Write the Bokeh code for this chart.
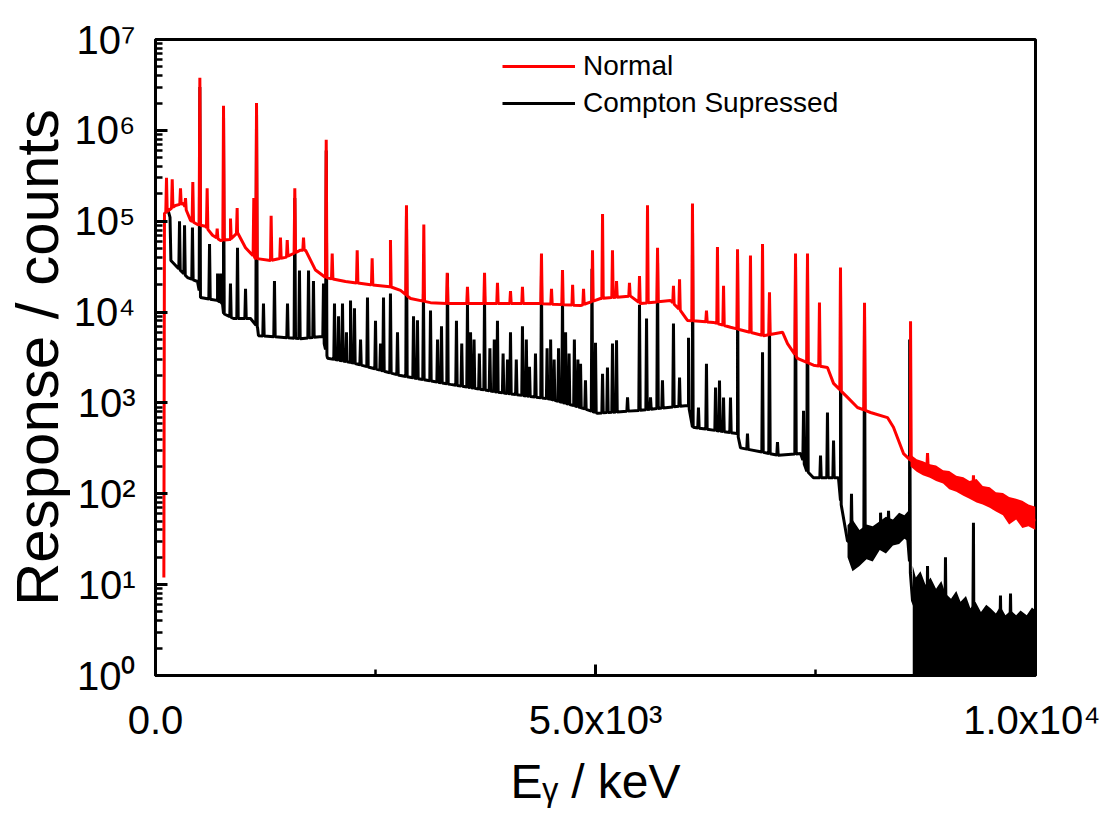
import numpy as np
from bokeh.plotting import figure
from bokeh.models import (FixedTicker, CustomJSTickFormatter, Legend, LegendItem, Range1d)
from bokeh.embed import file_html
from bokeh.resources import INLINE

FONT = "Liberation Sans"

# ---------------- data ----------------
# Normal spectrum: continuum breakpoints (keV, counts)
red_cont_E = [95, 102, 227, 318, 398, 477, 568, 648, 739, 852, 932, 1023, 1136, 1307, 1477,
              1648, 1705, 1818, 1932, 2159, 2443, 2670, 2784, 2898, 3125, 3352, 3920, 4375,
              4830, 5057, 5398, 5511, 5852, 5966, 6045, 6341, 6534, 6909, 7125, 7182, 7295,
              7477, 7636, 7705, 7864, 7977, 8125, 8318, 8386, 8500, 8580, 8807, 9182, 9568,
              9977, 10000]
red_cont_y = [12, 1.22e5, 1.49e5, 1.57e5, 1.02e5, 9.2e4, 8.8e4, 7.0e4, 6.15e4, 6.3e4, 7.5e4,
              5.1e4, 3.9e4, 3.7e4, 4.0e4, 4.8e4, 4.8e4, 2.9e4, 2.4e4, 2.17e4, 2.0e4, 1.9e4,
              1.73e4, 1.41e4, 1.27e4, 1.24e4, 1.24e4, 1.24e4, 1.18e4, 1.41e4, 1.5e4, 1.24e4,
              1.34e4, 1.04e4, 8.1e3, 7.7e3, 6.8e3, 5.5e3, 6.0e3, 4.5e3, 3.1e3, 2.6e3, 2.45e3,
              1.64e3, 1.15e3, 890, 785, 690, 540, 277, 234, 180, 117, 84, 53, 50]
# Normal spectrum: peaks (keV, counts at top)
red_peak_E = [125, 190, 284, 341, 424, 504, 587, 701, 773, 852, 928, 1117, 1148, 1314, 1420,
              1497, 1583, 1682, 1940, 2008, 2292, 2462, 2670, 2852, 3049, 3315, 3545, 3739,
              3886, 4034, 4170, 4386, 4500, 4625, 4740, 4864, 4966, 5080, 5193, 5239, 5386,
              5500, 5591, 5705, 5886, 5955, 6102, 6261, 6386, 6455, 6614, 6761, 6898, 6977,
              7273, 7409, 7545, 7784, 8057, 8580, 8773, 9295]
red_peak_y = [3.0e5, 2.9e5, 2.3e5, 1.8e5, 2.7e5, 3.8e6, 2.3e5, 8.3e4, 1.87e6, 1.07e5, 1.4e5,
              1.8e5, 2.0e6, 1.15e5, 6.6e4, 6.2e4, 2.3e5, 6.6e4, 7.9e5, 4.4e4, 4.8e4, 3.9e4,
              6.2e4, 1.5e5, 9.2e4, 2.7e4, 1.9e4, 2.7e4, 2.1e4, 1.7e4, 1.9e4, 4.4e4, 1.8e4,
              2.9e4, 2.0e4, 1.8e4, 4.8e4, 1.2e5, 4.8e4, 2.2e4, 2.1e4, 2.5e4, 1.5e5, 5.1e4,
              1.95e4, 2.3e4, 1.57e5, 1.04e4, 5.2e4, 1.95e4, 4.9e4, 4.2e4, 5.6e4, 1.65e4,
              4.4e4, 4.4e4, 1.27e4, 3.1e4, 1.27e4, 7.9e3, 280, 160]
# Normal spectrum: noise band of the high-energy tail (keV, low, high)
red_band_E = [8580, 8650, 8720, 8800, 8870, 8950, 9020, 9100, 9180, 9250, 9330, 9400, 9480,
              9550, 9630, 9700, 9780, 9850, 9920, 10000]
red_band_lo = [200, 175, 160, 150, 138, 130, 112, 105, 95, 88, 80, 76, 70, 64, 58, 46, 52,
               42, 44, 40]
red_band_hi = [270, 240, 228, 212, 205, 182, 178, 158, 152, 138, 145, 122, 118, 104, 102, 92,
               88, 84, 76, 72]

# Compton suppressed spectrum: continuum breakpoints
black_cont_E = [145, 165, 175, 250, 364, 477, 511, 705, 761, 773, 886, 1080, 1159, 1170, 1648,
                1898, 1955, 2216, 2784, 3352, 3920, 4489, 4830, 5023, 5511, 6057, 6102, 6614,
                6648, 7080, 7330, 7398, 7477, 7761, 7784, 7864, 8011, 8239, 8466, 8534, 8568,
                8602, 8693, 8900, 9300, 9700, 10000]
black_cont_y = [1.3e5, 1.1e5, 3.7e4, 3.1e4, 2.4e4, 2.17e4, 1.45e4, 1.34e4, 1.24e4, 9.6e3,
                8.5e3, 8.5e3, 6.8e3, 5.5e3, 5.1e3, 5.4e3, 3.1e3, 2.8e3, 2.0e3, 1.6e3, 1.3e3,
                1.1e3, 890, 770, 830, 940, 540, 460, 320, 265, 277, 180, 150, 150, 84, 30, 30,
                35, 40, 48, 18, 6.7, 4, 3, 2.5, 2.5, 2.5]
# Compton suppressed spectrum: peaks
black_peak_E = [273, 330, 420, 504, 614, 705, 740, 773, 852, 932, 1023, 1148, 1227, 1352, 1500,
                1583, 1636, 1739, 1795, 1909, 1940, 2034, 2080, 2125, 2170, 2216, 2261, 2330,
                2409, 2500, 2557, 2591, 2670, 2750, 2852, 2932, 2977, 3045, 3125, 3205, 3250,
                3318, 3420, 3480, 3545, 3580, 3620, 3680, 3739, 3800, 3850, 3886, 3950, 4000,
                4034, 4100, 4170, 4214, 4250, 4318, 4386, 4450, 4490, 4530, 4580, 4625, 4660,
                4700, 4760, 4800, 4830, 4886, 4960, 5000, 5080,
                5136, 5193, 5239, 5364, 5500, 5580, 5625, 5705, 5761, 5886, 5955, 6057, 6102,
                6170, 6261, 6364, 6409, 6455, 6534, 6614, 6727, 6898, 6977, 7068, 7273, 7364,
                7409, 7557, 7636, 7705, 7784, 7909, 8057, 8239, 8330, 8570, 8773, 8977, 9295,
                9602, 9716]
black_peak_y = [1.0e5, 9.0e4, 8.5e4, 3.0e6, 5.6e4, 2.65e4, 2.65e4, 1.5e6, 2.06e4, 5.1e4, 1.8e4,
                1.6e6, 1.24e4, 2.2e4, 1.24e4, 1.8e5, 2.86e4, 2.86e4, 2.2e4, 2.06e4, 6.0e5,
                1.24e4, 9e3, 1.24e4, 6e3, 1.34e4, 1.1e4, 5e3,
                1.45e4, 8e3, 4.5e3, 1.45e4, 1.6e4, 6e3, 1.2e5, 9e3, 8.1e3, 1.6e4, 1.04e4, 5e3,
                7e3,
                2.65e4, 8e3, 4.5e3, 1.2e4, 6e3, 5e3, 3.5e3, 1.5e4, 4e3, 5e3, 8e3, 3.5e3, 3e3,
                6e3, 3e3, 7e3, 5e3, 2.5e3, 3.5e3, 2.5e4, 4e3, 5e3, 3e3, 4e3, 1.5e4, 6e3,
                3.5e3, 5e3, 3e3, 2.7e3, 1.77e3, 3.0e4, 4.6e3, 2.1e3,
                2.45e3, 4.5e3, 4.9e3, 1.15e3, 1.2e4, 8.5e3, 1.15e3, 3.5e4, 1.77e3, 7.5e3, 1.9e3,
                5.2e3, 1.2e5,
                890, 2.7e3, 1.48e3, 1.77e3, 1.15e3, 1.15e3, 3.5e4, 460, 3.6e3, 9.6e3, 370,
                3.2e4, 820, 3.2e4, 264, 785, 386, 2.2e4, 100, 9e3, 62, 65, 5e3, 16, 20, 48,
                7.6, 8]
# Compton suppressed: noisy band between the two upper edges (keV, low, high)
black_band_E = [7864, 7920, 8000, 8080, 8150, 8230, 8300, 8380, 8450, 8510, 8555]
black_band_lo = [20, 14, 16, 19, 18, 24, 22, 27, 28, 32, 30]
black_band_hi = [45, 52, 40, 46, 44, 50, 56, 52, 62, 58, 65]
# Compton suppressed: dense noise above the last edge (keV, low, high)
black_fill_E = [8605, 8640, 8693, 8750, 8807, 8870, 8930, 8977, 9040, 9100, 9148, 9210, 9260,
                9318, 9380, 9440, 9489, 9550, 9600, 9659, 9720, 9780, 9830, 9900, 9960, 10000]
black_fill_lo = [0.3, 0.3, 0.3, 0.3, 0.3, 0.3, 0.3, 0.3, 0.3, 0.3, 0.3, 0.3, 0.3,
                 0.3, 0.3, 0.3, 0.3, 0.3, 0.3, 0.3, 0.3, 0.3, 0.3, 0.3, 0.3, 0.3]
black_fill_hi = [16, 12, 14, 10, 12, 9, 11, 8, 7, 8.5, 6.5, 7.5, 5.5, 6.5, 5, 6, 5.5, 4.8,
                 5.8, 4.6, 5.2, 4.6, 5.2, 4.6, 5.6, 5.2]

x_ticks = [0, 5000, 10000]
x_minor = [2500, 7500]
x_tick_labels = ["0.0", "5.0x10\u00b3", "1.0x10\u2074"]
y_decades = [1, 10, 100, 1e3, 1e4, 1e5, 1e6, 1e7]


def spectrum(cE, cY, pE, pY, hw=8.0):
    """Continuum polyline with narrow spikes whose feet sit on that polyline."""
    cE = np.asarray(cE, float)
    lc = np.log10(np.asarray(cY, float))
    pts = list(zip(cE, 10 ** lc))
    for e, top in zip(pE, pY):
        for ee, vv in ((e - hw, None), (e, top), (e + hw, None)):
            if vv is None:
                vv = 10 ** np.interp(ee, cE, lc)
            pts.append((ee, vv))
    pts.sort(key=lambda t: t[0])
    return [t[0] for t in pts], [t[1] for t in pts]


rx, ry = spectrum(red_cont_E, red_cont_y, red_peak_E, red_peak_y)
bx, by = spectrum(black_cont_E, black_cont_y, black_peak_E, black_peak_y)

p = figure(width=1100, height=828, y_axis_type="log",
           x_range=Range1d(0, 10000), y_range=Range1d(1, 1e7),
           output_backend="svg", toolbar_location=None,
           min_border_left=155, min_border_right=65, min_border_top=39, min_border_bottom=153)
p.xgrid.visible = False
p.ygrid.visible = False
p.background_fill_color = "white"
p.border_fill_color = "white"
p.outline_line_color = "black"
p.outline_line_width = 3

# draw suppressed first, normal on top
p.varea(x=black_band_E, y1=black_band_lo, y2=black_band_hi, fill_color="black")
p.varea(x=black_fill_E, y1=black_fill_lo, y2=black_fill_hi, fill_color="black")
bl = p.line(bx, by, line_color="black", line_width=3)
p.varea(x=red_band_E, y1=red_band_lo, y2=red_band_hi, fill_color="red")
rl = p.line(rx, ry, line_color="red", line_width=3)

legend = Legend(items=[LegendItem(label="Normal", renderers=[rl]),
                       LegendItem(label="Compton Supressed", renderers=[bl])],
                location=(347, 556), orientation="vertical")
legend.label_text_font = FONT
legend.label_text_font_size = "28px"
legend.label_text_color = "black"
legend.glyph_width = 73
legend.glyph_height = 30
legend.label_height = 30
legend.label_standoff = 8
legend.spacing = 5
legend.padding = 0
legend.margin = 0
legend.border_line_color = None
legend.background_fill_alpha = 0
p.add_layout(legend)

# axes
xa = p.xaxis[0]
xa.ticker = FixedTicker(ticks=x_ticks, minor_ticks=x_minor)
xa.major_label_overrides = {t: s for t, s in zip(x_ticks, x_tick_labels)}
ya = p.yaxis[0]
ya.ticker = FixedTicker(ticks=y_decades,
                        minor_ticks=[k * d for d in y_decades[:-1] for k in range(2, 10)])
ya.formatter = CustomJSTickFormatter(code="""
const sup = {"0":"\u2070","1":"\u00b9","2":"\u00b2","3":"\u00b3","4":"\u2074",
             "5":"\u2075","6":"\u2076","7":"\u2077","8":"\u2078","9":"\u2079","-":"\u207b"};
const e = Math.round(Math.log10(tick));
return "10" + String(e).split("").map(c => sup[c]).join("");
""")
for ax in (xa, ya):
    ax.axis_line_width = 3
    ax.axis_line_color = "black"
    ax.major_tick_line_width = 3
    ax.minor_tick_line_width = 2.5
    ax.major_tick_out = 0
    ax.minor_tick_out = 0
    ax.major_label_text_font = FONT
    ax.major_label_text_font_size = "40px"
    ax.major_label_text_color = "black"
    ax.axis_label_text_font = FONT
    ax.axis_label_text_font_style = "normal"
    ax.axis_label_text_color = "black"
ya.major_tick_in = 12
ya.minor_tick_in = 7
xa.major_tick_in = 11
xa.minor_tick_in = 6
ya.major_label_standoff = 20
xa.major_label_standoff = 22
ya.axis_label = "Response / counts"
ya.axis_label_text_font_size = "60px"
ya.axis_label_standoff = 0
xa.axis_label = "E\u1d67 / keV"
xa.axis_label_text_font_size = "48px"
xa.axis_label_standoff = 10

open("out.html", "w").write(file_html(p, INLINE))
